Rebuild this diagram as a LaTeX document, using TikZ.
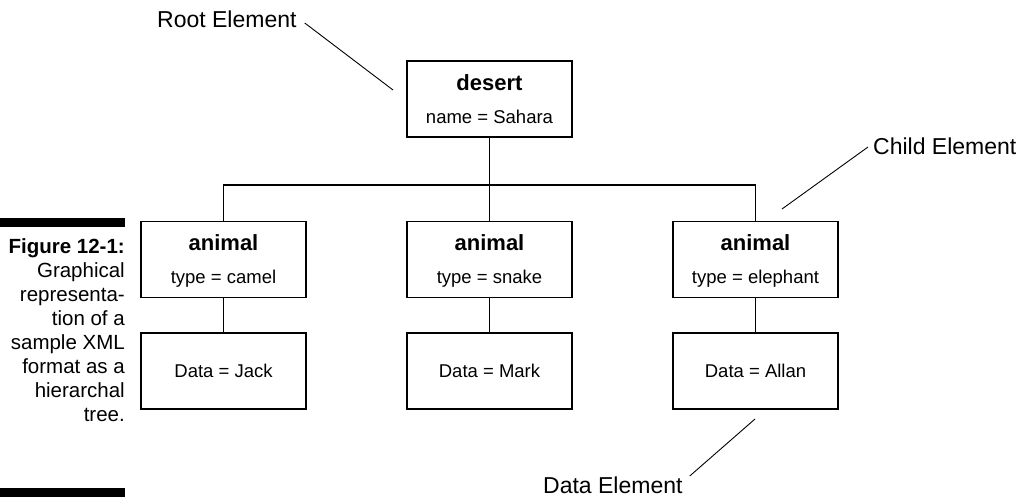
\documentclass[tikz,border=0pt]{standalone}
\usepackage{fontspec}
\setmainfont{Liberation Sans}
\begin{document}
\begin{tikzpicture}[x=1pt,y=-1pt,
  elbox/.style={draw,line width=1.3pt,minimum width=165pt,minimum height=76pt,inner sep=0pt},
  head/.style={anchor=base,font=\fontsize{22}{24}\selectfont\bfseries,inner sep=0pt},
  attr/.style={anchor=base,font=\fontsize{18.5}{22}\selectfont,inner sep=0pt},
  callout/.style={anchor=base west,font=\fontsize{23}{25}\selectfont,inner sep=0pt},
  link/.style={line width=1.3pt},
  pointer/.style={line width=0.9pt}]
\useasboundingbox (0,0) rectangle (1022,497);
% boxes
\node[elbox] (desert) at (489.5,99) {};
\node[elbox] (a1) at (223.5,259.5) {};
\node[elbox] (a2) at (489.5,259.5) {};
\node[elbox] (a3) at (755.5,259.5) {};
\node[elbox] (d1) at (223.5,371) {};
\node[elbox] (d2) at (489.5,371) {};
\node[elbox] (d3) at (755.5,371) {};
% texts
\node[head] (t0) at ([yshift=-30pt]desert.north) {desert};
\node[attr] (s0) at ([yshift=-63pt]desert.north) {name = Sahara};
\node[head] (t1) at ([yshift=-30pt]a1.north) {animal};
\node[attr] (s1) at ([yshift=-63pt]a1.north) {type = camel};
\node[head] (t2) at ([yshift=-30pt]a2.north) {animal};
\node[attr] (s2) at ([yshift=-63pt]a2.north) {type = snake};
\node[head] (t3) at ([yshift=-30pt]a3.north) {animal};
\node[attr] (s3) at ([yshift=-63pt]a3.north) {type = elephant};
\node[attr] (v1) at ([yshift=-45pt]d1.north) {Data = Jack};
\node[attr] (v2) at ([yshift=-45pt]d2.north) {Data = Mark};
\node[attr] (v3) at ([yshift=-45pt]d3.north) {Data = Allan};
% tree connectors
\coordinate (bus) at (489.5,185);
\draw[link] (desert.south) -- (a2.north);
\draw[link] (a1.north) |- (bus) -| (a3.north);
\draw[link] (a1.south) -- (d1.north);
\draw[link] (a2.south) -- (d2.north);
\draw[link] (a3.south) -- (d3.north);
% callouts
\node[callout] (root) at (157,28) {Root Element};
\coordinate (rootend) at (393,90);
\draw[pointer] ([xshift=8pt,yshift=5pt]root.base east) -- (rootend);
\node[callout] (child) at (873,155) {Child Element};
\coordinate (childend) at (782,209);
\draw[pointer] ([xshift=-5pt,yshift=8pt]child.base west) -- (childend);
\node[callout] (data) at (543,493) {Data Element};
\coordinate (dataend) at (755,419);
\draw[pointer] ([xshift=7pt,yshift=17pt]data.base east) -- (dataend);
% caption
\fill (0,218) rectangle (125,227);
\fill (0,488) rectangle (125,497);
\node[anchor=base east,align=right,inner sep=0pt,font=\fontsize{20.5}{24}\selectfont] (cap) at (125,421)
  {\textbf{Figure 12-1:}\\Graphical\\representa-\\tion of a\\sample XML\\format as a\\hierarchal\\tree.};
\end{tikzpicture}
\end{document}
